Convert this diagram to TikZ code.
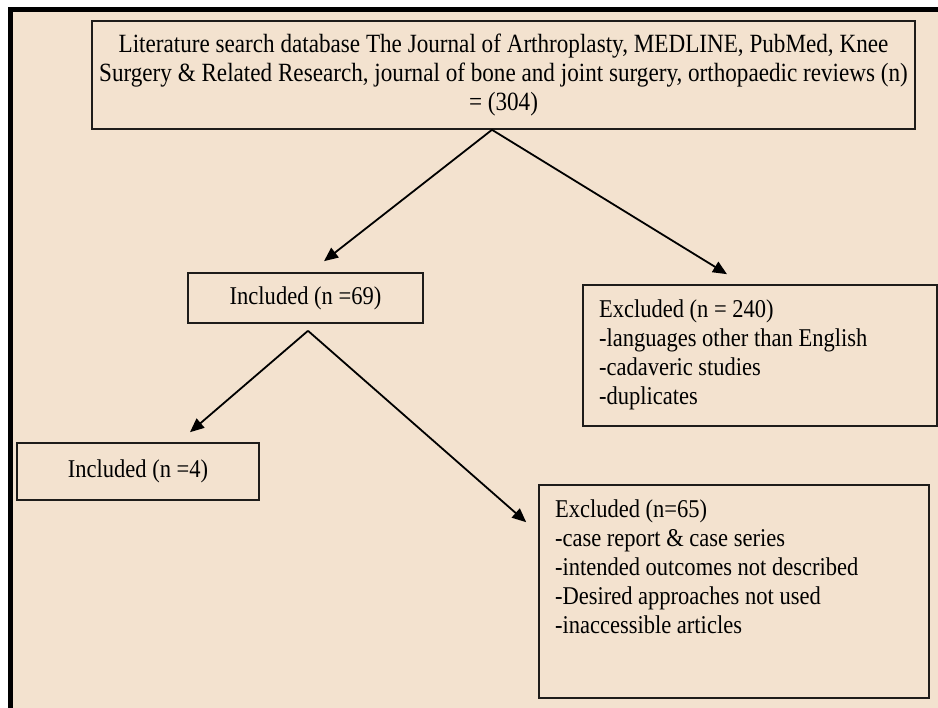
\documentclass[tikz,border=0pt]{standalone}
\usepackage{fontspec}
\setmainfont{Liberation Serif}[FakeStretch=0.88]
\usepackage{tikz}
\usetikzlibrary{arrows.meta}
\definecolor{paper}{RGB}{243,226,207}
\definecolor{boxline}{RGB}{30,28,26}

\begin{document}
\begin{tikzpicture}[x=1pt,y=-1pt,
    box/.style={draw=boxline,line width=1.6pt,rectangle,inner sep=0pt,
      font=\fontsize{25.6}{29}\selectfont},
    listbox/.style={box,inner xsep=16pt,inner ysep=15pt},
    arr/.style={line width=1.8pt,-{Triangle[length=14pt,width=12pt]}}]
          \useasboundingbox (0,0) rectangle (938,708);
          \fill[paper] (8,7) rectangle (938,708);
          \draw[line width=5pt] (10.5,708) -- (10.5,9.5) -- (938,9.5);

          % Search
          \node[box,minimum width=823,minimum height=108,align=center,
                font=\fontsize{26.3}{29}\selectfont] (search) at (503.5,75)
            {Literature search database The Journal of Arthroplasty, MEDLINE, PubMed, Knee\\
             Surgery \& Related Research, journal of bone and joint surgery, orthopaedic reviews (n)\\
             = (304)};

          % First split
          \node[box,minimum width=235,minimum height=50] (inc69) at (305.5,298) {Included (n =69)};
          \node[listbox] (exc240) at (760,355.5)
            {\parbox[c][111pt][t]{322pt}{\raggedright
             Excluded (n = 240)\\
             -languages other than English\\
             -cadaveric studies\\
             -duplicates}};

          % Second split
          \node[box,minimum width=242,minimum height=57] (inc4) at (138,471.5) {Included (n =4)};
          \node[listbox] (exc65) at (734,591.5)
            {\parbox[c][183pt][t]{358pt}{\raggedright
             Excluded (n=65)\\
             -case report \& case series\\
             -intended outcomes not described\\
             -Desired approaches not used\\
             -inaccessible articles}};

          \draw[arr] ([shift={(-11.5,0)}]search.south) -- ([shift={(18.5,-11)}]inc69.north);
          \draw[arr] ([shift={(-11.5,0)}]search.south) -- ([shift={(-33,-10)}]exc240.north);
          \draw[arr] ([shift={(2.5,7)}]inc69.south) -- ([shift={(52,-10)}]inc4.north);
          \draw[arr] ([shift={(2.5,7)}]inc69.south) -- ([shift={(-12,38)}]exc65.north west);
        \end{tikzpicture}
\end{document}
